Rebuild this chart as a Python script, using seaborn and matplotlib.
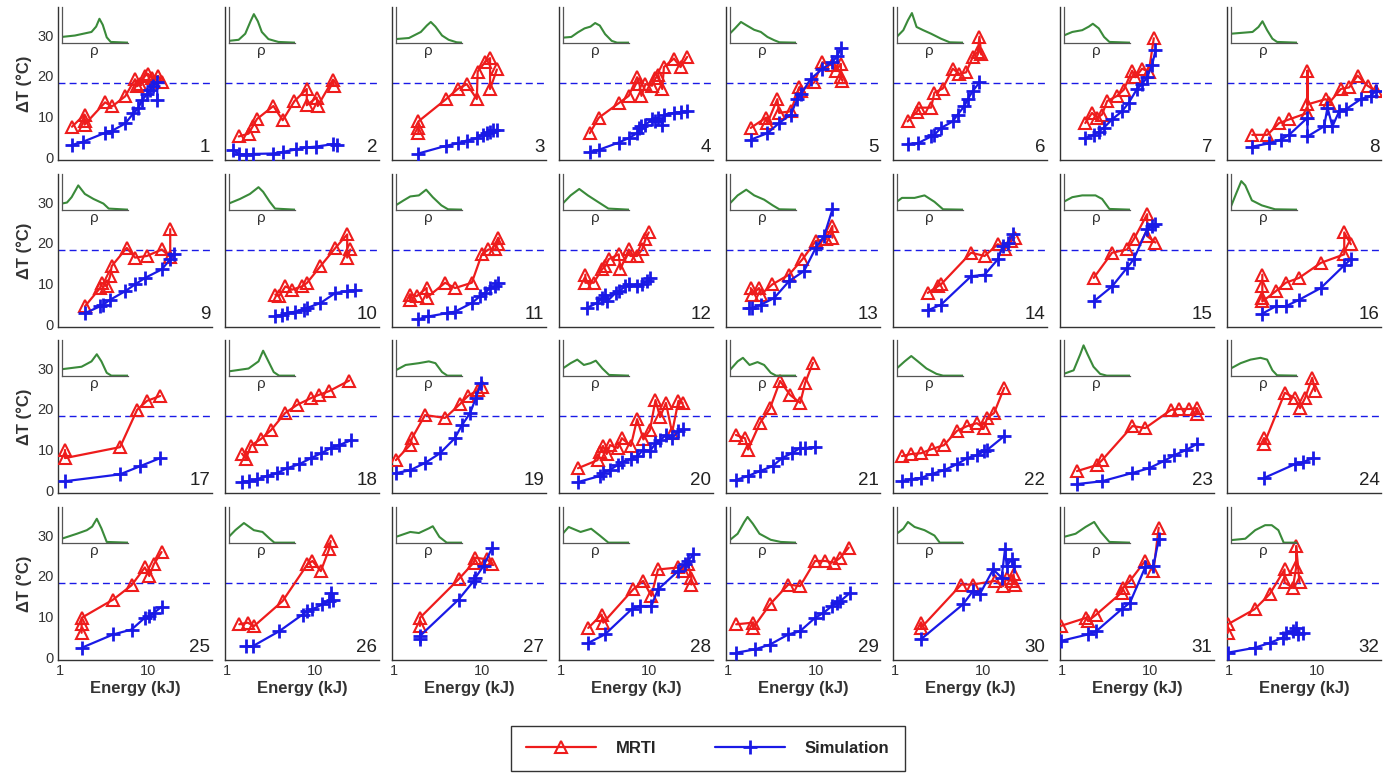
import matplotlib
matplotlib.use("Agg")
import matplotlib.pyplot as plt
import seaborn as sns
from matplotlib.lines import Line2D
from matplotlib.ticker import FixedLocator, FixedFormatter, LogLocator, NullFormatter

sns.set_style("white")
plt.rcParams["font.family"] = ["Liberation Sans", "DejaVu Sans"]

# ---------------- data ----------------
PANEL_NUMBERS = list(range(1, 33))
THRESHOLD = 18.3
YTICKS = [0, 10, 20, 30]
YTICK_LABELS = ["0", "10", "20", "30"]
XTICKS = [1, 10]
XTICK_LABELS = ["1", "10"]
SERIES_NAMES = ["MRTI", "Simulation"]

MRTI_E = [
    [1.37, 1.9, 1.9, 1.9, 3.25, 3.9, 5.5, 7.1, 7.5, 8.1, 9.2, 10.0, 11.0, 13.0, 14.4],
    [1.36, 1.76, 1.96, 2.19, 3.36, 4.29, 5.82, 8.04, 8.04, 10.4, 10.7, 15.9, 16.3],
    [1.89, 1.89, 1.89, 3.9, 5.29, 6.7, 8.7, 8.9, 10.8, 12.3, 12.3, 14.7],
    [2.12, 2.68, 4.52, 5.87, 7.3, 7.76, 8.18, 9.08, 10.8, 11.8, 12.7, 14.1, 14.7, 19.1, 22.7, 27.0],
    [1.81, 2.68, 2.8, 3.63, 3.8, 5.15, 6.41, 6.7, 9.5, 11.8, 15.3, 16.7, 19.1, 19.1, 19.9],
    [1.39, 1.76, 1.89, 2.57, 2.8, 3.48, 4.52, 5.38, 6.41, 7.63, 8.7, 9.08, 9.5],
    [1.84, 2.19, 2.5, 2.85, 3.25, 4.22, 5.02, 6.24, 6.81, 8.11, 9.66, 11.0],
    [1.84, 2.73, 3.7, 4.81, 7.77, 7.77, 7.77, 12.5, 13.7, 18.6, 23.1, 28.7, 37.3, 46.4],
    [1.92, 2.85, 2.97, 3.39, 3.7, 3.86, 5.72, 7.11, 9.66, 14.3, 17.8, 17.8],
    [3.54, 3.9, 4.6, 5.48, 7.11, 8.11, 11.5, 17.0, 23.1, 23.1, 25.1],
    [1.52, 1.52, 1.81, 2.35, 2.35, 3.8, 4.93, 7.63, 9.91, 11.8, 14.1, 15.3, 15.3],
    [1.89, 1.89, 2.35, 2.92, 3.19, 3.48, 4.52, 4.72, 5.87, 6.13, 7.3, 8.32, 9.08, 9.91],
    [1.81, 1.89, 2.25, 2.35, 3.19, 4.93, 7.0, 9.91, 12.9, 15.3, 15.3],
    [2.35, 3.05, 3.33, 7.3, 10.4, 14.7, 17.5, 20.8, 22.7],
    [2.29, 3.7, 5.48, 6.52, 9.25, 9.25, 11.5],
    [2.39, 2.39, 2.39, 2.39, 3.39, 4.4, 6.24, 11.0, 20.3, 20.3, 24.1],
    [1.14, 1.14, 4.8, 7.5, 9.7, 13.7],
    [1.48, 1.64, 1.87, 2.43, 3.16, 4.56, 6.23, 9.0, 11.1, 14.4, 24.3],
    [1.05, 1.52, 1.6, 2.25, 3.8, 5.6, 6.9, 9.0, 10.0],
    [1.56, 2.6, 2.77, 3.0, 3.3, 3.6, 4.4, 4.9, 6.2, 7.3, 8.6, 10.2, 11.8, 13.3, 15.5, 18.2, 21.5, 24.0],
    [1.23, 1.56, 1.69, 2.3, 3.0, 3.9, 5.05, 6.6, 7.5, 9.2],
    [1.2, 1.52, 1.97, 2.6, 3.6, 5.05, 6.6, 8.5, 10.2, 11.1, 13.3, 17.3],
    [1.48, 2.5, 2.85, 6.3, 8.8, 17.3, 21.3, 27.7, 34.0, 34.0],
    [2.5, 2.5, 4.3, 5.6, 6.4, 7.3, 8.8, 9.5],
    [1.76, 1.76, 1.76, 4.02, 6.48, 9.17, 10.3, 11.6, 14.2],
    [1.38, 1.71, 2.04, 4.27, 8.19, 9.33, 11.6, 14.4, 15.0],
    [1.97, 1.97, 5.41, 8.03, 8.4, 11.4, 13.0],
    [2.04, 2.89, 3.02, 6.59, 8.55, 10.6, 12.6, 21.3, 24.3, 27.7, 30.1, 30.1],
    [1.24, 1.93, 1.93, 2.99, 4.84, 6.57, 9.74, 12.7, 15.8, 18.8, 23.4],
    [1.97, 1.97, 5.65, 7.68, 13.6, 16.9, 18.5, 21.1, 22.1, 23.1],
    [0.97, 1.88, 1.97, 2.45, 4.74, 4.95, 5.9, 8.77, 10.9, 12.5],
    [0.97, 0.97, 1.95, 2.89, 4.27, 4.27, 5.3, 5.78, 5.78, 6.31],
]
MRTI_T = [
    [7.5, 10.5, 9.0, 8.0, 13.5, 12.5, 15.0, 19.2, 17.5, 18.0, 20.0, 20.5, 19.5, 20.0, 18.5],
    [5.1, 5.8, 7.6, 9.4, 12.6, 9.1, 13.8, 16.8, 12.8, 14.7, 12.6, 19.1, 17.6],
    [5.9, 7.2, 8.8, 14.3, 16.8, 18.0, 14.3, 21.1, 23.4, 24.4, 16.8, 21.6],
    [5.9, 9.7, 13.3, 15.1, 19.7, 18.0, 15.1, 18.0, 17.6, 19.4, 20.3, 16.8, 22.2, 24.3, 22.2, 24.7],
    [7.2, 9.7, 8.4, 14.3, 10.9, 11.3, 17.2, 16.3, 18.4, 23.4, 22.6, 21.3, 23.0, 19.7, 18.8],
    [8.8, 11.1, 12.2, 12.2, 15.9, 16.9, 21.8, 20.5, 20.9, 24.7, 25.9, 29.7, 25.3],
    [8.4, 10.9, 9.7, 10.5, 13.8, 15.1, 16.6, 21.3, 19.7, 21.8, 21.0, 29.3],
    [5.5, 5.5, 8.4, 9.3, 10.9, 21.3, 13.0, 14.3, 13.4, 16.8, 17.2, 20.1, 17.6, 16.3],
    [4.4, 8.9, 10.2, 9.3, 11.8, 14.3, 18.8, 16.4, 16.8, 18.4, 16.5, 23.4],
    [7.3, 6.9, 9.3, 8.5, 9.3, 10.2, 14.3, 18.8, 22.1, 16.4, 18.4],
    [6.0, 7.3, 6.9, 8.9, 6.5, 10.2, 8.9, 10.2, 17.2, 18.4, 18.4, 21.3, 19.7],
    [12.2, 10.2, 10.2, 13.5, 14.3, 16.0, 17.2, 13.5, 18.4, 16.8, 16.8, 18.4, 20.9, 22.6],
    [8.9, 7.3, 8.9, 7.3, 9.8, 12.2, 16.0, 20.5, 20.9, 24.2, 21.3],
    [7.7, 9.3, 9.8, 17.6, 16.8, 19.7, 18.4, 20.5, 21.3],
    [11.4, 17.6, 18.4, 20.9, 27.1, 21.7, 20.1],
    [12.2, 9.3, 6.4, 5.6, 8.1, 10.2, 11.4, 15.1, 17.2, 22.6, 19.7],
    [9.9, 7.9, 10.6, 19.8, 22.0, 23.2],
    [9.0, 7.7, 11.0, 12.6, 14.8, 19.0, 21.0, 22.7, 23.5, 24.4, 27.0],
    [7.4, 11.1, 12.8, 18.5, 17.8, 21.2, 23.2, 24.7, 25.4],
    [5.4, 7.4, 9.4, 10.9, 8.9, 11.1, 10.4, 12.8, 10.9, 17.5, 12.5, 14.8, 22.2, 18.0, 21.5, 14.2, 22.0, 21.5],
    [13.6, 12.8, 10.0, 16.5, 20.2, 26.9, 23.5, 21.5, 26.4, 31.4],
    [8.4, 8.9, 9.1, 10.1, 11.1, 14.6, 15.8, 16.5, 15.3, 17.8, 19.0, 25.2],
    [4.7, 6.2, 7.4, 15.8, 15.3, 19.8, 20.0, 20.0, 20.2, 18.8],
    [12.8, 11.4, 24.0, 22.7, 20.2, 22.7, 27.7, 24.4],
    [6.0, 8.1, 9.7, 14.2, 17.7, 22.1, 20.0, 22.9, 25.9],
    [8.1, 8.5, 7.7, 13.8, 22.9, 23.7, 21.2, 26.6, 28.6],
    [7.7, 9.7, 19.2, 23.3, 24.5, 24.1, 22.9],
    [7.2, 10.5, 8.5, 16.7, 18.8, 15.1, 21.6, 22.1, 21.2, 22.9, 19.6, 17.9],
    [8.1, 8.5, 7.2, 13.0, 17.9, 17.5, 23.7, 23.7, 23.3, 24.5, 27.0],
    [8.5, 7.2, 17.9, 17.9, 18.8, 17.5, 19.6, 18.8, 20.4, 17.9],
    [7.7, 9.7, 8.9, 10.5, 15.9, 17.1, 18.8, 23.7, 21.2, 31.9],
    [6.0, 8.1, 11.8, 15.5, 21.6, 18.4, 17.1, 22.1, 27.4, 18.4],
]
SIM_E = [
    [1.37, 1.83, 3.25, 3.9, 5.5, 6.8, 7.7, 8.5, 9.7, 10.5, 11.4, 12.7, 12.7],
    [1.16, 1.36, 1.64, 1.99, 3.36, 4.29, 6.1, 7.9, 10.2, 15.9, 17.6],
    [1.89, 3.9, 5.29, 6.7, 8.7, 10.3, 11.3, 12.3, 13.4, 14.7],
    [2.12, 2.68, 4.52, 5.87, 7.3, 7.76, 8.18, 9.08, 10.8, 11.8, 12.7, 14.1, 14.7, 19.1, 22.7, 27.0],
    [1.81, 2.8, 3.8, 5.15, 6.13, 6.7, 8.7, 11.8, 15.3, 17.4, 19.1],
    [1.39, 1.81, 2.57, 2.8, 3.33, 4.52, 5.15, 6.13, 6.7, 7.63, 9.08],
    [1.84, 2.29, 2.61, 2.97, 3.7, 4.8, 5.72, 7.1, 8.11, 9.24, 10.5, 11.5],
    [1.84, 2.85, 3.86, 4.81, 7.77, 7.77, 12.0, 13.1, 14.9, 17.8, 21.2, 31.3, 40.7, 46.4],
    [1.92, 2.85, 3.1, 3.7, 5.47, 7.11, 9.24, 14.3, 17.8, 19.4],
    [3.54, 4.2, 4.8, 5.97, 7.44, 8.11, 11.5, 17.0, 23.1, 28.0],
    [1.89, 2.45, 3.97, 4.93, 7.63, 9.49, 10.8, 12.3, 14.1, 15.3],
    [1.97, 2.56, 2.92, 3.19, 3.33, 4.16, 4.52, 5.38, 5.87, 7.3, 8.32, 9.49, 10.3],
    [1.73, 1.89, 2.35, 3.33, 4.93, 7.3, 9.91, 12.3, 15.3],
    [2.35, 3.33, 7.3, 10.4, 14.7, 16.7, 19.1, 21.8],
    [2.29, 3.7, 5.48, 6.52, 9.25, 10.5, 11.5],
    [2.39, 3.39, 4.4, 6.24, 11.0, 20.3, 24.1],
    [1.14, 4.8, 8.1, 13.7],
    [1.48, 1.78, 2.19, 2.85, 3.7, 4.8, 6.6, 9.0, 11.7, 15.2, 18.7, 25.6],
    [1.05, 1.52, 2.25, 3.33, 4.9, 5.9, 7.3, 8.5, 9.7],
    [1.56, 2.77, 3.0, 3.6, 4.4, 4.9, 6.2, 7.3, 8.6, 10.2, 11.8, 13.3, 15.5, 18.2, 21.5, 24.0],
    [1.23, 1.69, 2.3, 3.2, 4.1, 5.3, 6.6, 7.5, 9.7],
    [1.2, 1.52, 1.97, 2.6, 3.6, 5.05, 6.6, 8.5, 10.2, 11.1, 17.3],
    [1.48, 2.85, 6.2, 9.7, 14.4, 18.7, 25.6, 34.0],
    [2.5, 5.6, 6.9, 9.0],
    [1.76, 4.02, 6.48, 9.17, 10.3, 11.6, 14.2],
    [1.64, 1.96, 3.92, 7.2, 8.19, 9.33, 12.1, 14.4, 15.0, 15.8],
    [1.97, 1.97, 5.41, 8.03, 8.4, 10.4, 13.0],
    [2.04, 3.15, 6.32, 7.84, 10.6, 12.6, 21.3, 25.4, 27.7, 31.6],
    [1.24, 2.01, 2.99, 4.84, 6.57, 9.74, 12.1, 15.1, 17.2, 18.8, 24.4],
    [1.97, 5.9, 7.68, 9.15, 13.0, 16.2, 17.7, 18.5, 21.1, 22.1],
    [0.97, 1.97, 2.45, 4.74, 5.9, 8.77, 10.9, 12.5],
    [0.97, 1.95, 2.89, 4.08, 4.46, 5.3, 5.78, 6.05, 6.94],
]
SIM_T = [
    [3.0, 3.8, 6.0, 6.5, 8.3, 10.8, 12.0, 14.0, 15.5, 16.5, 17.5, 18.5, 14.0],
    [1.8, 0.8, 0.6, 0.8, 0.9, 1.3, 1.9, 2.4, 2.6, 3.2, 3.1],
    [0.9, 2.8, 3.4, 4.1, 4.7, 5.5, 5.9, 6.3, 6.6, 6.8],
    [1.3, 1.8, 3.6, 4.7, 5.9, 7.2, 7.8, 8.0, 9.3, 8.8, 9.7, 8.0, 10.5, 10.9, 11.1, 11.3],
    [4.3, 5.9, 8.4, 10.5, 14.3, 15.5, 19.3, 21.8, 23.4, 25.0, 26.8],
    [3.3, 3.4, 5.1, 5.5, 7.2, 8.8, 10.5, 12.6, 14.3, 16.3, 18.4],
    [4.7, 5.5, 6.3, 7.2, 9.3, 11.3, 13.4, 16.8, 18.0, 19.7, 22.6, 26.3],
    [2.6, 3.4, 4.3, 5.5, 9.7, 5.1, 7.6, 12.2, 7.6, 11.3, 11.8, 14.3, 15.1, 16.3],
    [2.7, 4.4, 4.8, 6.0, 8.1, 9.8, 11.4, 13.5, 16.0, 17.2],
    [1.9, 2.3, 2.7, 3.1, 3.6, 4.0, 5.2, 7.7, 8.1, 8.3],
    [1.2, 1.9, 2.7, 3.1, 5.2, 6.9, 7.7, 8.9, 9.3, 10.2],
    [4.0, 5.2, 6.4, 7.3, 5.6, 7.7, 8.1, 9.3, 9.8, 9.3, 9.8, 10.6, 11.4],
    [4.0, 4.0, 4.8, 6.4, 10.6, 13.1, 18.8, 21.7, 28.3],
    [3.4, 4.8, 11.8, 12.2, 16.0, 19.3, 20.1, 22.1],
    [5.6, 9.3, 13.9, 16.0, 23.4, 24.2, 24.6],
    [2.6, 4.4, 4.4, 6.0, 8.9, 14.5, 16.0],
    [2.2, 3.9, 5.9, 7.9],
    [2.0, 2.2, 2.7, 3.5, 4.2, 5.4, 6.4, 7.9, 9.1, 10.4, 11.1, 12.3],
    [4.2, 4.9, 6.7, 9.1, 12.8, 16.0, 19.0, 22.7, 26.4],
    [2.0, 3.5, 4.3, 5.0, 6.2, 6.9, 7.7, 8.3, 10.0, 9.6, 11.5, 12.3, 13.5, 12.8, 14.5, 15.0],
    [2.5, 3.5, 4.7, 5.9, 7.9, 9.1, 10.4, 10.4, 10.6],
    [2.2, 2.7, 3.0, 4.0, 4.9, 6.4, 7.9, 8.6, 9.6, 9.9, 13.3],
    [1.5, 2.2, 4.2, 5.4, 7.2, 8.6, 9.9, 11.4],
    [3.0, 6.4, 6.9, 7.9],
    [2.3, 5.6, 6.8, 9.7, 10.1, 10.9, 12.4],
    [2.7, 2.7, 6.4, 10.5, 11.4, 11.8, 13.0, 13.8, 15.9, 14.2],
    [4.4, 5.2, 14.2, 18.8, 19.6, 22.5, 27.0],
    [3.5, 5.6, 11.8, 12.6, 12.6, 16.7, 21.2, 22.9, 23.7, 25.3],
    [1.1, 1.9, 3.1, 5.6, 6.4, 9.7, 10.9, 12.6, 13.4, 13.8, 15.9],
    [4.4, 13.0, 16.3, 15.5, 21.6, 19.6, 26.6, 22.5, 24.1, 22.5],
    [4.0, 5.6, 6.4, 11.8, 13.4, 22.1, 22.5, 29.0],
    [1.1, 2.3, 3.5, 4.8, 6.0, 6.4, 7.2, 5.6, 6.0],
]
# inset density curves (rho), normalised x / height
RHO_X = [
    [0, 0.2, 0.45, 0.52, 0.57, 0.62, 0.68, 0.74, 1],
    [0, 0.15, 0.25, 0.33, 0.38, 0.44, 0.5, 0.6, 0.75, 1],
    [0, 0.2, 0.38, 0.47, 0.53, 0.6, 0.7, 0.8, 0.92, 1],
    [0, 0.13, 0.23, 0.33, 0.42, 0.49, 0.56, 0.64, 0.74, 0.82, 1],
    [0, 0.08, 0.17, 0.25, 0.37, 0.47, 0.57, 0.67, 0.75, 1],
    [0, 0.1, 0.17, 0.23, 0.3, 0.4, 0.52, 0.67, 0.8, 1],
    [0, 0.13, 0.28, 0.38, 0.44, 0.53, 0.61, 0.69, 1],
    [0, 0.33, 0.42, 0.48, 0.55, 0.63, 0.7, 1],
    [0, 0.08, 0.15, 0.25, 0.35, 0.48, 0.63, 0.71, 1],
    [0, 0.17, 0.32, 0.45, 0.52, 0.62, 0.7, 1],
    [0, 0.12, 0.22, 0.35, 0.46, 0.56, 0.69, 0.79, 1],
    [0, 0.12, 0.25, 0.38, 0.53, 0.69, 1],
    [0, 0.12, 0.25, 0.37, 0.52, 0.65, 0.75, 1],
    [0, 0.08, 0.27, 0.42, 0.57, 0.7, 1],
    [0, 0.13, 0.28, 0.48, 0.58, 0.69, 1],
    [0, 0.08, 0.16, 0.22, 0.32, 0.47, 0.67, 1],
    [0, 0.3, 0.45, 0.53, 0.6, 0.68, 0.75, 1],
    [0, 0.3, 0.45, 0.52, 0.6, 0.68, 0.76, 1],
    [0, 0.15, 0.35, 0.5, 0.6, 0.7, 0.78, 1],
    [0, 0.12, 0.22, 0.32, 0.42, 0.5, 0.6, 0.7, 1],
    [0, 0.12, 0.2, 0.3, 0.42, 0.52, 0.62, 0.7, 1],
    [0, 0.12, 0.22, 0.32, 0.45, 0.6, 0.7, 1],
    [0, 0.15, 0.25, 0.3, 0.36, 0.45, 0.55, 0.65, 1],
    [0, 0.15, 0.3, 0.45, 0.55, 0.63, 0.7, 1],
    [0, 0.23, 0.38, 0.46, 0.53, 0.6, 0.68, 1],
    [0, 0.1, 0.23, 0.38, 0.51, 0.62, 0.69, 1],
    [0, 0.22, 0.35, 0.5, 0.56, 0.66, 0.77, 1],
    [0, 0.09, 0.27, 0.43, 0.56, 0.69, 1],
    [0, 0.12, 0.22, 0.27, 0.35, 0.45, 0.62, 0.77, 1],
    [0, 0.1, 0.17, 0.27, 0.42, 0.57, 0.65, 1],
    [0, 0.18, 0.33, 0.46, 0.56, 0.69, 1],
    [0, 0.22, 0.37, 0.52, 0.62, 0.72, 0.8, 1],
]
RHO_Y = [
    [0.16, 0.2, 0.3, 0.45, 0.67, 0.5, 0.15, 0.02, 0],
    [0.05, 0.08, 0.25, 0.6, 0.8, 0.6, 0.3, 0.1, 0.02, 0],
    [0.1, 0.13, 0.3, 0.48, 0.58, 0.45, 0.2, 0.08, 0.01, 0],
    [0.14, 0.16, 0.29, 0.4, 0.45, 0.55, 0.48, 0.24, 0.05, 0, 0],
    [0.25, 0.4, 0.58, 0.49, 0.36, 0.3, 0.16, 0.07, 0.01, 0],
    [0.16, 0.35, 0.63, 0.83, 0.44, 0.35, 0.25, 0.11, 0.01, 0],
    [0.2, 0.3, 0.35, 0.45, 0.53, 0.4, 0.16, 0.02, 0],
    [0.25, 0.3, 0.44, 0.6, 0.35, 0.11, 0.02, 0],
    [0.17, 0.2, 0.35, 0.68, 0.44, 0.3, 0.17, 0.03, 0],
    [0.17, 0.3, 0.44, 0.63, 0.5, 0.22, 0.03, 0],
    [0.12, 0.26, 0.37, 0.4, 0.56, 0.35, 0.12, 0.01, 0],
    [0.17, 0.4, 0.58, 0.4, 0.22, 0.03, 0],
    [0.17, 0.4, 0.56, 0.4, 0.28, 0.12, 0.01, 0],
    [0.22, 0.33, 0.33, 0.4, 0.22, 0.01, 0],
    [0.22, 0.35, 0.4, 0.4, 0.3, 0.02, 0],
    [0.07, 0.44, 0.8, 0.68, 0.26, 0.12, 0.01, 0],
    [0.18, 0.25, 0.4, 0.6, 0.4, 0.08, 0, 0],
    [0.12, 0.2, 0.4, 0.7, 0.4, 0.1, 0, 0],
    [0.15, 0.3, 0.35, 0.4, 0.35, 0.1, 0, 0],
    [0.2, 0.35, 0.45, 0.3, 0.35, 0.42, 0.2, 0.02, 0],
    [0.15, 0.4, 0.5, 0.3, 0.38, 0.3, 0.08, 0, 0],
    [0.2, 0.4, 0.55, 0.4, 0.2, 0.05, 0, 0],
    [0.05, 0.15, 0.6, 0.85, 0.6, 0.25, 0.05, 0, 0],
    [0.2, 0.35, 0.45, 0.5, 0.45, 0.15, 0.01, 0],
    [0.11, 0.25, 0.35, 0.45, 0.67, 0.4, 0.02, 0],
    [0.16, 0.35, 0.55, 0.35, 0.3, 0.11, 0, 0],
    [0.16, 0.3, 0.27, 0.4, 0.46, 0.16, 0, 0],
    [0.25, 0.44, 0.3, 0.39, 0.2, 0, 0],
    [0.07, 0.25, 0.58, 0.72, 0.53, 0.25, 0.08, 0.02, 0],
    [0.25, 0.39, 0.58, 0.44, 0.35, 0.2, 0, 0],
    [0.16, 0.25, 0.44, 0.58, 0.3, 0.02, 0],
    [0.07, 0.11, 0.35, 0.49, 0.49, 0.35, 0, 0],
]

# ---------------- style ----------------
RED = "#ee1c1c"
BLUE = "#1a1ae6"
GREEN = "#3a8a3a"
SPINE = "#333333"
TXT = "#333333"

W, H = 1396, 776
fig = plt.figure(figsize=(W / 100, H / 100), dpi=100)
fig.patch.set_facecolor("white")

COL_LEFT = [58 + 167 * i for i in range(8)]
ROW_TOP = [7, 174, 340, 507]
AW, AH = 154, 153

for i, num in enumerate(PANEL_NUMBERS):
    r, c = divmod(i, 8)
    ax = fig.add_axes([COL_LEFT[c] / W, 1 - (ROW_TOP[r] + AH) / H, AW / W, AH / H])
    ax.set_facecolor("none")
    ax.axhline(THRESHOLD, color=BLUE, lw=1.0, ls=(0, (5, 3)), zorder=1)
    sns.lineplot(x=MRTI_E[i], y=MRTI_T[i], ax=ax, estimator=None, sort=False,
                 color=RED, lw=1.6, marker="^", markersize=9,
                 markerfacecolor="none", markeredgecolor=RED, markeredgewidth=1.5,
                 legend=False, zorder=3)
    sns.lineplot(x=SIM_E[i], y=SIM_T[i], ax=ax, estimator=None, sort=False,
                 color=BLUE, lw=1.6, marker="+", markersize=10,
                 markeredgecolor=BLUE, markeredgewidth=2.0,
                 legend=False, zorder=4)
    ax.set_xscale("log")
    ax.set_xlim(0.95, 53)
    ax.set_ylim(-0.7, 37)
    for s in ["top", "right"]:
        ax.spines[s].set_visible(False)
    for s in ["left", "bottom"]:
        ax.spines[s].set_color(SPINE)
        ax.spines[s].set_linewidth(1.0)
    ax.yaxis.set_major_locator(FixedLocator(YTICKS))
    ax.xaxis.set_major_locator(FixedLocator(XTICKS))
    ax.xaxis.set_minor_locator(LogLocator(base=10, subs=range(2, 10)))
    ax.xaxis.set_minor_formatter(NullFormatter())
    ax.tick_params(axis="both", which="major", direction="in", length=3, width=0.8,
                   color=SPINE, labelsize=10.5, labelcolor=TXT, pad=3)
    ax.tick_params(axis="x", which="minor", direction="in", length=2, width=0.6, color=SPINE)
    if c == 0:
        ax.yaxis.set_major_formatter(FixedFormatter(YTICK_LABELS))
        ax.set_ylabel("ΔT (°C)", fontsize=12, fontweight="bold", color=TXT, labelpad=4)
    else:
        ax.set_yticklabels([])
        ax.set_ylabel("")
    if r == 3:
        ax.xaxis.set_major_formatter(FixedFormatter(XTICK_LABELS))
        ax.set_xlabel("Energy (kJ)", fontsize=12, fontweight="bold", color=TXT, labelpad=2)
    else:
        ax.set_xticklabels([])
        ax.set_xlabel("")
    ax.text(0.99, 0.05, str(num), transform=ax.transAxes, ha="right", va="baseline",
            fontsize=13.5, color="#222222")

    ins = ax.inset_axes([0.024, 0.767, 0.43, 0.233])
    ins.set_facecolor("none")
    sns.lineplot(x=RHO_X[i], y=RHO_Y[i], ax=ins, estimator=None, sort=False,
                 color=GREEN, lw=1.5, legend=False)
    ins.set_xlim(0, 1)
    ins.set_ylim(0, 1)
    ins.set_xticks([])
    ins.set_yticks([])
    for s in ["top", "right"]:
        ins.spines[s].set_visible(False)
    for s in ["left", "bottom"]:
        ins.spines[s].set_color("#555555")
        ins.spines[s].set_linewidth(0.9)
    ins.set_xlabel("ρ", fontsize=11, labelpad=1, color=TXT)
    ins.set_ylabel("")

handles = [
    Line2D([], [], color=RED, lw=1.6, marker="^", markersize=9, markerfacecolor="none",
           markeredgecolor=RED, markeredgewidth=1.5),
    Line2D([], [], color=BLUE, lw=1.6, marker="+", markersize=10, markeredgewidth=2.0),
]
leg = fig.legend(handles, SERIES_NAMES, loc="center", bbox_to_anchor=(0.507, 0.036),
                 ncol=2, frameon=True, fancybox=False, edgecolor="black",
                 handlelength=4.2, columnspacing=3.5, handletextpad=1.2,
                 borderpad=0.9, prop={"weight": "bold", "size": 12})
leg.get_frame().set_linewidth(1.0)

fig.savefig("out.png", dpi=100, facecolor="white")
